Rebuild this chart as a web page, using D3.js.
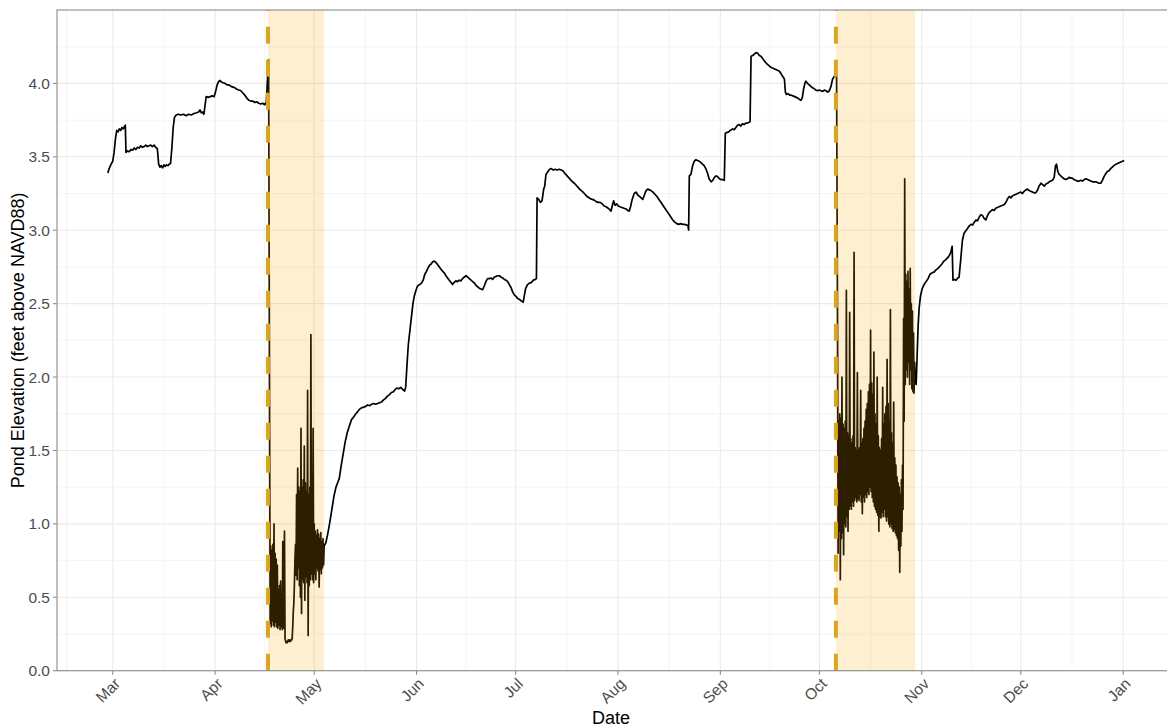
<!DOCTYPE html>
<html>
<head>
<meta charset="utf-8">
<title>Pond Elevation</title>
<script src="https://cdn.jsdelivr.net/npm/d3@7"></script>
<style>
  body { margin: 0; background: #fff; font-family: "Liberation Sans", Arial, sans-serif; }
  svg { display: block; }
</style>
</head>
<body>
<script>
// readings: [days after 1 March, pond elevation in ft above NAVD88]
var lateWinter = [[-1.5,3.39],[-1.1,3.42],[-0.5,3.45],[0,3.47],[0.4,3.53],[0.8,3.62],[1.2,3.68],[1.6,3.67],[2.0,3.69],[2.4,3.68],[2.8,3.70],[3.2,3.69],[3.6,3.71],[3.8,3.715],[4.0,3.53],[4.5,3.54],[5.0,3.535],[5.5,3.55],[6.0,3.545],[6.5,3.56],[7.0,3.55],[7.5,3.565],[8.0,3.56],[8.5,3.575],[9.0,3.565],[9.5,3.57],[10.0,3.58],[10.5,3.57],[11.0,3.575],[11.5,3.58],[12.0,3.57],[12.5,3.58],[13.0,3.565],[13.5,3.555],[13.9,3.45],[14.3,3.43],[14.7,3.44],[15.1,3.425],[15.5,3.445],[15.9,3.435],[16.3,3.445],[16.7,3.44],[17.1,3.45],[17.5,3.455],[17.9,3.56],[18.3,3.70],[18.7,3.77],[19.2,3.785],[19.8,3.79],[20.6,3.785],[21.4,3.79],[22.2,3.78],[23.0,3.79],[23.8,3.785],[24.6,3.795],[25.4,3.80],[26.0,3.805],[26.4,3.82],[26.8,3.80],[27.2,3.805],[27.6,3.79],[28.0,3.86],[28.3,3.91],[28.9,3.905],[29.5,3.91],[30.1,3.915],[30.7,3.91],[31.2,3.95],[31.6,3.99],[32.0,4.01],[32.4,4.02],[32.9,4.01],[33.4,4.005],[34.0,4.00],[34.6,3.99],[35.2,3.99],[35.8,3.98],[36.4,3.975],[37.0,3.97],[37.6,3.96],[38.2,3.955],[38.8,3.95],[39.4,3.935],[40.0,3.92],[40.6,3.90],[41.2,3.885],[41.8,3.88],[42.4,3.88],[43.0,3.87],[43.6,3.875],[44.2,3.865],[44.8,3.86],[45.4,3.865],[46.0,3.855],[46.5,3.87],[46.9,4.05],[47.2,4.16]];

// 4-hourly readings during the April event
var aprilStormStart = 47.5;
var aprilStorm = [1.64,0.32,0.85,0.30,0.82,0.34,0.86,0.31,1.00,0.30,0.80,0.33,0.76,0.30,0.72,0.29,0.55,0.31,
  0.58,0.28,0.61,0.30,0.52,0.28,0.88,0.29,0.55,0.95,0.22,0.20,0.19,0.20,0.19,0.20,0.21,0.20,
  0.20,0.21,0.20,0.21,0.21,0.22,0.30,0.40,0.46,0.58,0.75,0.86,0.65,1.20,0.62,1.38,0.70,1.25,
  0.58,1.22,0.50,1.65,0.39,1.25,0.62,1.30,0.60,1.53,0.48,1.28,0.64,1.22,0.60,1.91,0.24,1.20,
  0.58,1.25,0.62,2.29,0.66,1.30,0.62,1.65,0.60,1.00,0.66,0.95,0.62,0.92,0.70,0.96,0.68,0.93,
  0.57,0.90,0.69,0.94,0.66,0.88,0.70,0.90,0.72,0.85];

var summer = [[64.5,0.87],[65.0,0.92],[65.5,0.98],[66.0,1.05],[66.5,1.12],[67.0,1.19],[67.6,1.25],[68.1,1.28],[68.6,1.31],[69.2,1.40],[69.8,1.48],[70.4,1.56],[71.0,1.62],[71.7,1.67],[72.3,1.71],[73.0,1.73],[73.6,1.75],[74.2,1.765],[74.7,1.78],[75.3,1.79],[76.0,1.795],[76.6,1.80],[77.2,1.81],[77.8,1.805],[78.4,1.815],[79.0,1.82],[79.6,1.815],[80.2,1.82],[80.8,1.825],[81.4,1.83],[82.0,1.845],[82.6,1.855],[83.2,1.87],[83.8,1.88],[84.4,1.895],[85.0,1.90],[85.5,1.915],[86.0,1.925],[86.6,1.92],[87.2,1.93],[87.8,1.915],[88.4,1.905],[88.7,1.93],[89.1,2.08],[89.5,2.22],[89.9,2.30],[90.4,2.40],[90.9,2.50],[91.3,2.55],[91.8,2.59],[92.3,2.62],[92.9,2.63],[93.5,2.64],[94.0,2.66],[94.5,2.70],[95.0,2.72],[95.4,2.74],[95.9,2.76],[96.4,2.77],[96.9,2.785],[97.4,2.79],[97.9,2.78],[98.4,2.765],[98.9,2.75],[99.4,2.735],[99.9,2.72],[100.4,2.71],[100.9,2.69],[101.4,2.675],[101.9,2.66],[102.4,2.645],[102.9,2.63],[103.4,2.645],[103.9,2.655],[104.4,2.65],[104.9,2.66],[105.4,2.655],[105.9,2.67],[106.4,2.68],[107.0,2.69],[107.5,2.68],[108.0,2.67],[108.5,2.66],[109.0,2.65],[109.5,2.64],[110.0,2.625],[110.5,2.615],[111.0,2.605],[111.5,2.60],[112.0,2.595],[112.5,2.62],[113.0,2.65],[113.5,2.67],[114.0,2.67],[114.5,2.675],[115.0,2.665],[115.5,2.68],[116.0,2.685],[116.5,2.69],[117.1,2.69],[117.6,2.68],[118.1,2.675],[118.6,2.665],[119.1,2.66],[119.6,2.65],[120.1,2.63],[120.6,2.61],[121.1,2.58],[121.6,2.56],[122.1,2.55],[122.6,2.535],[123.1,2.53],[123.6,2.52],[124.0,2.515],[124.3,2.51],[124.6,2.55],[125.0,2.60],[125.6,2.63],[126.2,2.64],[126.8,2.645],[127.4,2.66],[128.0,2.665],[128.3,2.67],[128.5,3.22],[129.0,3.21],[129.5,3.19],[130.0,3.20],[130.5,3.28],[130.8,3.30],[131.2,3.38],[131.8,3.40],[132.3,3.415],[132.8,3.42],[133.4,3.41],[134.0,3.415],[134.6,3.41],[135.2,3.415],[135.8,3.41],[136.3,3.405],[136.8,3.39],[137.4,3.375],[138.0,3.36],[138.6,3.345],[139.2,3.33],[139.8,3.32],[140.4,3.305],[141.0,3.29],[141.6,3.275],[142.2,3.265],[142.8,3.25],[143.4,3.235],[144.0,3.225],[144.6,3.215],[145.2,3.21],[145.8,3.205],[146.4,3.195],[147.0,3.19],[147.6,3.19],[148.2,3.18],[148.8,3.165],[149.4,3.16],[150.0,3.15],[150.5,3.14],[150.9,3.13],[151.3,3.17],[151.7,3.20],[152.1,3.17],[152.6,3.18],[153.1,3.165],[153.6,3.16],[154.2,3.155],[154.8,3.15],[155.4,3.145],[156.0,3.135],[156.4,3.13],[156.8,3.16],[157.3,3.21],[157.9,3.25],[158.5,3.26],[159.0,3.24],[159.5,3.23],[160.0,3.22],[160.5,3.21],[161.0,3.24],[161.5,3.27],[162.0,3.28],[162.5,3.275],[163.0,3.27],[163.6,3.26],[164.2,3.245],[164.8,3.23],[165.4,3.21],[166.0,3.19],[166.6,3.17],[167.2,3.15],[167.8,3.13],[168.4,3.11],[169.0,3.09],[169.6,3.07],[170.2,3.055],[170.8,3.045],[171.4,3.04],[172.0,3.045],[172.6,3.04],[173.2,3.04],[173.8,3.035],[174.2,3.03],[174.4,3.00],[174.6,3.37],[175.1,3.38],[175.6,3.44],[176.1,3.47],[176.6,3.48],[177.1,3.475],[177.6,3.47],[178.1,3.46],[178.6,3.45],[179.1,3.44],[179.6,3.42],[180.1,3.39],[180.6,3.35],[181.2,3.33],[181.7,3.34],[182.2,3.36],[182.7,3.37],[183.2,3.365],[183.7,3.35],[184.2,3.345],[184.7,3.345],[185.2,3.34],[185.5,3.66],[186.0,3.665],[186.5,3.67],[187.0,3.68],[187.7,3.69],[188.2,3.685],[188.7,3.70],[189.2,3.715],[189.7,3.72],[190.2,3.71],[190.7,3.725],[191.2,3.72],[191.7,3.73],[192.2,3.73],[192.7,3.735],[193.0,3.74],[193.3,4.185],[193.8,4.19],[194.3,4.20],[194.8,4.21],[195.3,4.205],[195.8,4.19],[196.3,4.185],[196.8,4.17],[197.3,4.155],[197.8,4.14],[198.3,4.13],[198.8,4.12],[199.3,4.11],[199.8,4.105],[200.3,4.10],[200.8,4.095],[201.3,4.09],[201.8,4.085],[202.3,4.07],[202.8,4.05],[203.4,4.03],[203.7,3.94],[204.0,3.925],[204.5,3.93],[205.0,3.92],[205.5,3.92],[206.0,3.915],[206.5,3.91],[207.0,3.905],[207.5,3.90],[208.0,3.89],[208.4,3.885],[208.8,3.90],[209.2,3.96],[209.6,4.00],[209.9,4.015],[210.4,4.00],[210.9,3.99],[211.4,3.98],[211.9,3.97],[212.4,3.965],[212.9,3.955],[213.4,3.95],[213.9,3.955],[214.5,3.95],[215.0,3.945],[215.5,3.955],[216.0,3.95],[216.5,3.94],[217.0,3.95],[217.5,3.98],[218.0,4.03],[218.6,4.05],[219.2,4.06]];

// 4-hourly readings during the October event
var octoberStormStart = 219.5;
var octoberStorm = [2.32,0.80,1.70,0.95,1.75,0.62,1.72,0.90,2.00,0.94,1.68,0.79,1.65,1.00,1.70,0.98,2.59,1.05,
  1.62,0.95,1.60,1.10,2.44,1.12,1.58,1.10,1.55,1.15,1.60,1.12,2.85,1.16,1.52,1.18,1.50,1.15,
  2.03,1.17,1.50,1.16,1.52,1.20,1.91,1.15,1.55,1.07,1.58,1.18,1.65,1.15,1.70,1.20,1.78,1.18,
  1.82,1.22,1.90,1.20,1.95,1.25,2.32,1.22,1.96,1.18,1.88,1.15,2.17,1.12,1.75,1.10,1.68,1.08,
  2.00,1.06,1.60,0.95,1.52,1.05,1.50,1.04,1.58,1.08,1.93,1.05,1.68,1.10,1.75,1.05,1.80,1.02,
  2.12,1.05,1.82,1.00,1.70,0.98,2.46,1.00,1.62,0.97,1.55,0.95,1.83,0.96,1.45,0.94,1.40,0.92,
  1.32,0.90,1.28,0.82,1.25,0.67,1.20,0.85,1.30,0.95,1.40,1.10,2.40,1.70,3.35,1.95,2.70,2.05,
  2.65,2.00,2.72,2.10,2.60,1.95,2.74,2.05,2.50,1.92,2.45,1.90,2.30,1.89,2.10,1.98];

var autumn = [[243.3,1.95],[243.6,2.15],[243.9,2.35],[244.2,2.47],[244.6,2.55],[245.1,2.60],[245.7,2.63],[246.3,2.65],[246.9,2.67],[247.5,2.70],[248.1,2.71],[248.7,2.715],[249.3,2.73],[249.9,2.74],[250.5,2.755],[251.1,2.77],[251.7,2.79],[252.3,2.80],[252.9,2.815],[253.4,2.83],[253.8,2.85],[254.2,2.89],[254.45,2.66],[254.9,2.665],[255.4,2.66],[255.9,2.675],[256.3,2.68],[256.8,2.80],[257.3,2.93],[257.8,2.98],[258.3,2.995],[258.8,3.01],[259.4,3.03],[259.9,3.04],[260.4,3.035],[260.9,3.055],[261.4,3.07],[261.9,3.065],[262.4,3.09],[262.9,3.105],[263.4,3.10],[263.9,3.08],[264.4,3.07],[264.9,3.10],[265.4,3.12],[265.9,3.13],[266.4,3.14],[266.9,3.135],[267.4,3.15],[267.9,3.155],[268.4,3.16],[268.9,3.165],[269.5,3.17],[270.0,3.175],[270.5,3.19],[271.0,3.215],[271.5,3.23],[272.0,3.22],[272.5,3.235],[273.0,3.24],[273.5,3.245],[274.0,3.25],[274.5,3.255],[275.0,3.26],[275.5,3.25],[276.0,3.265],[276.5,3.275],[277.0,3.28],[277.5,3.27],[278.0,3.265],[278.5,3.26],[279.0,3.255],[279.5,3.255],[280.0,3.27],[280.5,3.30],[281.1,3.32],[281.6,3.31],[282.1,3.30],[282.6,3.315],[283.1,3.32],[283.6,3.33],[284.1,3.335],[284.6,3.34],[285.1,3.36],[285.5,3.44],[285.8,3.45],[286.2,3.40],[286.6,3.38],[287.1,3.37],[287.6,3.36],[288.1,3.35],[288.6,3.345],[289.1,3.35],[289.6,3.36],[290.1,3.355],[290.6,3.355],[291.1,3.345],[291.6,3.34],[292.1,3.335],[292.7,3.335],[293.2,3.34],[293.7,3.335],[294.2,3.345],[294.7,3.35],[295.2,3.345],[295.7,3.34],[296.2,3.335],[296.7,3.33],[297.2,3.33],[297.7,3.33],[298.2,3.325],[298.7,3.32],[299.2,3.32],[299.7,3.34],[300.2,3.365],[300.7,3.385],[301.2,3.40],[301.7,3.405],[302.2,3.42],[302.7,3.43],[303.2,3.44],[303.8,3.45],[304.3,3.455],[304.8,3.46],[305.3,3.465],[305.8,3.47],[306.3,3.475]];

// shaded event windows
var eventStart = ["2019-04-17", "2019-10-06"];
var eventEnd = ["2019-05-04", "2019-10-30"];

var yTicks = [0, 0.5, 1, 1.5, 2, 2.5, 3, 3.5, 4];
var yMinor = [0.25, 0.75, 1.25, 1.75, 2.25, 2.75, 3.25, 3.75, 4.25];
var monthTicks = ["2019-03-01","2019-04-01","2019-05-01","2019-06-01","2019-07-01","2019-08-01",
  "2019-09-01","2019-10-01","2019-11-01","2019-12-01","2020-01-01"];
var monthLabels = ["Mar","Apr","May","Jun","Jul","Aug","Sep","Oct","Nov","Dec","Jan"];

var width = 1167, height = 727;
var panelLeft = 57, panelRight = 1175, panelTop = 10, panelBottom = 670.7;
var stormStep = 1 / 6; // days between storm readings

var parseDay = d3.timeParse("%Y-%m-%d");
var origin = new Date(2019, 2, 1);
function toDate(day) { return new Date(origin.getTime() + day * 864e5); }

var readings = [].concat(
  lateWinter,
  aprilStorm.map(function(v, i) { return [aprilStormStart + i * stormStep, v]; }),
  summer,
  octoberStorm.map(function(v, i) { return [octoberStormStart + i * stormStep, v]; }),
  autumn
).map(function(d) { return { date: toDate(d[0]), value: d[1] }; });

// ggplot-like 5% expansion on x
var ext = d3.extent(readings, function(d) { return d.date; });
var pad = (ext[1] - ext[0]) * 0.05;
var x = d3.scaleTime()
  .domain([new Date(+ext[0] - pad), new Date(+ext[1] + pad)])
  .range([panelLeft, panelRight]);
var y = d3.scaleLinear().domain([0, 4.5]).range([panelBottom, panelTop]);

var svg = d3.select("body").append("svg")
  .attr("width", width)
  .attr("height", height);

svg.append("rect").attr("width", width).attr("height", height).attr("fill", "#fff");

var majorDates = monthTicks.map(parseDay);
var allMonths = d3.timeMonth.range(new Date(2019, 1, 1), new Date(2020, 2, 1));
var minorDates = [];
for (var i = 0; i < allMonths.length - 1; i++) {
  var mid = new Date((+allMonths[i] + +allMonths[i + 1]) / 2);
  if (mid > x.domain()[0] && mid < x.domain()[1]) minorDates.push(mid);
}

var grid = svg.append("g");
grid.selectAll(".ymin").data(yMinor).enter().append("line")
  .attr("x1", panelLeft).attr("x2", panelRight)
  .attr("y1", function(d) { return y(d); }).attr("y2", function(d) { return y(d); })
  .attr("stroke", "#f3f3f3").attr("stroke-width", 0.8);
grid.selectAll(".xmin").data(minorDates).enter().append("line")
  .attr("y1", panelTop).attr("y2", panelBottom)
  .attr("x1", function(d) { return x(d); }).attr("x2", function(d) { return x(d); })
  .attr("stroke", "#f3f3f3").attr("stroke-width", 0.8);
grid.selectAll(".ymaj").data(yTicks).enter().append("line")
  .attr("x1", panelLeft).attr("x2", panelRight)
  .attr("y1", function(d) { return y(d); }).attr("y2", function(d) { return y(d); })
  .attr("stroke", "#ebebeb").attr("stroke-width", 1.1);
grid.selectAll(".xmaj").data(majorDates).enter().append("line")
  .attr("y1", panelTop).attr("y2", panelBottom)
  .attr("x1", function(d) { return x(d); }).attr("x2", function(d) { return x(d); })
  .attr("stroke", "#ebebeb").attr("stroke-width", 1.1);

var line = d3.line()
  .x(function(d) { return x(d.date); })
  .y(function(d) { return y(d.value); });

svg.append("path")
  .datum(readings)
  .attr("fill", "none")
  .attr("stroke", "#000")
  .attr("stroke-width", 1.7)
  .attr("stroke-linejoin", "round")
  .attr("d", line);

// event shading sits over the line, like the alpha rect in the original
var events = eventStart.map(function(s, i) { return { start: parseDay(s), end: parseDay(eventEnd[i]) }; });
svg.selectAll(".shade").data(events).enter().append("rect")
  .attr("x", function(d) { return x(d.start); })
  .attr("width", function(d) { return x(d.end) - x(d.start); })
  .attr("y", panelTop)
  .attr("height", panelBottom - panelTop)
  .attr("fill", "orange")
  .attr("fill-opacity", 0.18);

svg.selectAll(".vline").data(events).enter().append("line")
  .attr("x1", function(d) { return x(d.start); }).attr("x2", function(d) { return x(d.start); })
  .attr("y1", panelBottom).attr("y2", panelTop)
  .attr("stroke", "#DAA520")
  .attr("stroke-width", 4)
  .attr("stroke-dasharray", "17,16");

// panel border
svg.append("rect")
  .attr("x", panelLeft).attr("y", panelTop)
  .attr("width", panelRight - panelLeft).attr("height", panelBottom - panelTop)
  .attr("fill", "none").attr("stroke", "#8c8c8c").attr("stroke-width", 1.1);

// y axis
var yAxis = svg.append("g");
yAxis.selectAll("line").data(yTicks).enter().append("line")
  .attr("x1", panelLeft - 4).attr("x2", panelLeft)
  .attr("y1", function(d) { return y(d); }).attr("y2", function(d) { return y(d); })
  .attr("stroke", "#8c8c8c").attr("stroke-width", 1.1);
yAxis.selectAll("text").data(yTicks).enter().append("text")
  .attr("x", panelLeft - 7)
  .attr("y", function(d) { return y(d); })
  .attr("dy", "0.36em")
  .attr("text-anchor", "end")
  .attr("font-size", "15.5px")
  .attr("fill", "#4d4d4d")
  .text(d3.format(".1f"));

// x axis
var xAxis = svg.append("g");
xAxis.selectAll("line").data(majorDates).enter().append("line")
  .attr("x1", function(d) { return x(d); }).attr("x2", function(d) { return x(d); })
  .attr("y1", panelBottom).attr("y2", panelBottom + 4)
  .attr("stroke", "#8c8c8c").attr("stroke-width", 1.1);
xAxis.selectAll("text").data(majorDates).enter().append("text")
  .attr("transform", function(d) { return "translate(" + (x(d) + 8.4) + "," + (panelBottom + 14) + ") rotate(-45)"; })
  .attr("text-anchor", "end")
  .attr("font-size", "15.5px")
  .attr("fill", "#4d4d4d")
  .text(function(d, i) { return monthLabels[i]; });

// axis titles
svg.append("text")
  .attr("x", 611).attr("y", 724)
  .attr("text-anchor", "middle")
  .attr("font-size", "18px")
  .attr("fill", "#000")
  .text("Date");

svg.append("text")
  .attr("transform", "translate(24," + ((panelTop + panelBottom) / 2) + ") rotate(-90)")
  .attr("text-anchor", "middle")
  .attr("font-size", "18px")
  .attr("fill", "#000")
  .text("Pond Elevation (feet above NAVD88)");
</script>
</body>
</html>
